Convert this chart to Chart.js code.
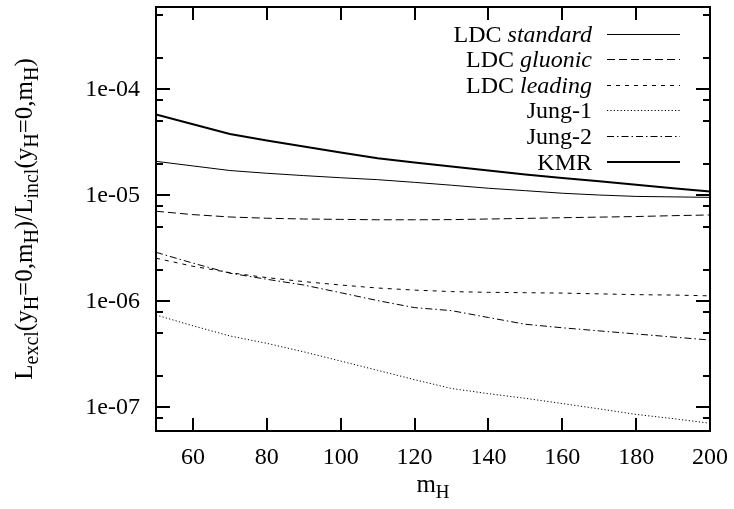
<!DOCTYPE html>
<html><head><meta charset="utf-8">
<script src="https://cdn.jsdelivr.net/npm/chart.js@4/dist/chart.umd.min.js"></script>
<style>html,body{margin:0;padding:0;background:#fff}#wrap{width:734px;height:509px;position:relative}</style>
</head><body><div id="wrap"><canvas id="c" width="734" height="509"></canvas></div>
<script>
const massesH = [50,60,70,80,90,100,110,120,130,140,150,160,170,180,190,200];
const ldcStandard = [2.10e-5,1.90e-5,1.72e-5,1.62e-5,1.54e-5,1.47e-5,1.41e-5,1.33e-5,1.25e-5,1.17e-5,1.11e-5,1.05e-5,1.01e-5,9.8e-6,9.7e-6,9.6e-6];
const ldcGluonic = [7.1e-6,6.6e-6,6.27e-6,6.1e-6,6.0e-6,5.95e-6,5.9e-6,5.9e-6,5.92e-6,6.0e-6,6.08e-6,6.17e-6,6.25e-6,6.33e-6,6.45e-6,6.55e-6];
const ldcLeading = [2.56e-6,2.15e-6,1.87e-6,1.68e-6,1.54e-6,1.43e-6,1.34e-6,1.28e-6,1.24e-6,1.22e-6,1.21e-6,1.20e-6,1.18e-6,1.16e-6,1.15e-6,1.13e-6];
const jung1 = [7.46e-7,5.9e-7,4.73e-7,4.03e-7,3.35e-7,2.74e-7,2.24e-7,1.83e-7,1.51e-7,1.35e-7,1.22e-7,1.09e-7,9.7e-8,8.6e-8,7.85e-8,7.1e-8];
const jung2 = [2.91e-6,2.3e-6,1.85e-6,1.62e-6,1.43e-6,1.21e-6,1.02e-6,8.75e-7,8.2e-7,7.06e-7,6.1e-7,5.65e-7,5.28e-7,4.94e-7,4.62e-7,4.33e-7];
const kmr = [5.8e-5,4.7e-5,3.8e-5,3.3e-5,2.9e-5,2.55e-5,2.25e-5,2.05e-5,1.88e-5,1.72e-5,1.58e-5,1.46e-5,1.36e-5,1.26e-5,1.17e-5,1.09e-5];
const seriesNames = [['LDC ','standard'],['LDC ','gluonic'],['LDC ','leading'],['Jung-1',''],['Jung-2',''],['KMR','']];
const xTickValues = [60,80,100,120,140,160,180,200];
const yTickValues = [1e-7,1e-6,1e-5,1e-4];
const yMinorValues = [8e-8,2e-7,5e-7,8e-7,2e-6,5e-6,8e-6,2e-5,5e-5,8e-5,2e-4,5e-4];

const SERIF = '"Liberation Serif","Times New Roman",serif';
const pts = arr => massesH.map((m,i)=>({x:m,y:arr[i]}));
const styles = [
  {borderWidth:1, borderDash:[]},
  {borderWidth:1, borderDash:[8,4]},
  {borderWidth:1, borderDash:[4,5]},
  {borderWidth:1, borderDash:[1.2,2.2]},
  {borderWidth:1, borderDash:[7,3,1.5,3]},
  {borderWidth:2, borderDash:[]}
];
const seriesData = [ldcStandard, ldcGluonic, ldcLeading, jung1, jung2, kmr];
const datasets = seriesData.map((arr,i)=>({
  label: seriesNames[i].join(''),
  data: pts(arr),
  borderColor:'#000', backgroundColor:'#000',
  borderWidth: styles[i].borderWidth, borderDash: styles[i].borderDash,
  pointRadius:0, tension:0, fill:false
}));

function measureRich(ctx, parts, size, subSize){
  let w = 0;
  parts.forEach(p=>{
    ctx.font = (p.it?'italic ':'') + (p.sub?subSize:size) + 'px ' + SERIF;
    w += ctx.measureText(p.t).width;
  });
  return w;
}
function renderRich(ctx, parts, x, y, size, subSize, subShift){
  let cx = x;
  parts.forEach(p=>{
    ctx.font = (p.it?'italic ':'') + (p.sub?subSize:size) + 'px ' + SERIF;
    ctx.fillText(p.t, cx, y + (p.sub?subShift:0));
    cx += ctx.measureText(p.t).width;
  });
}

const decor = {
  id:'decor',
  afterDraw(chart){
    const ctx = chart.ctx, a = chart.chartArea;
    const xs = chart.scales.x, ys = chart.scales.y;
    ctx.save();
    ctx.strokeStyle = '#000'; ctx.fillStyle = '#000';
    ctx.setLineDash([]);
    ctx.lineWidth = 2;
    ctx.beginPath();
    xTickValues.forEach(v=>{
      const px = Math.round(xs.getPixelForValue(v));
      ctx.moveTo(px, a.bottom); ctx.lineTo(px, a.bottom-13);
      ctx.moveTo(px, a.top); ctx.lineTo(px, a.top+13);
    });
    yTickValues.forEach(v=>{
      const py = Math.round(ys.getPixelForValue(v));
      ctx.moveTo(a.left, py); ctx.lineTo(a.left+14, py);
      ctx.moveTo(a.right, py); ctx.lineTo(a.right-14, py);
    });
    yMinorValues.forEach(v=>{
      const py = Math.round(ys.getPixelForValue(v));
      ctx.moveTo(a.left, py); ctx.lineTo(a.left+7, py);
      ctx.moveTo(a.right, py); ctx.lineTo(a.right-7, py);
    });
    ctx.stroke();
    ctx.strokeRect(a.left, a.top, a.right-a.left, a.bottom-a.top);
    // legend
    const textRight = 592, lx0 = 607, lx1 = 680;
    chart.data.datasets.forEach((ds,i)=>{
      const yRow = 33.5 + i*25.6;
      const parts = [{t:seriesNames[i][0]},{t:seriesNames[i][1], it:true}];
      const w = measureRich(ctx, parts, 24, 24);
      ctx.textBaseline = 'alphabetic'; ctx.textAlign = 'left';
      renderRich(ctx, parts, textRight - w, yRow + 8, 24, 24, 0);
      ctx.lineWidth = ds.borderWidth;
      ctx.setLineDash(ds.borderDash || []);
      ctx.beginPath();
      const yy = ds.borderWidth === 1 ? Math.round(yRow)+0.5 : Math.round(yRow);
      ctx.moveTo(lx0, yy); ctx.lineTo(lx1, yy); ctx.stroke();
      ctx.setLineDash([]);
    });
    // axis titles
    const xParts = [{t:'m'},{t:'H',sub:true}];
    const xw = measureRich(ctx, xParts, 25, 19);
    renderRich(ctx, xParts, (a.left+a.right)/2 - xw/2, 492, 25, 19, 6);
    const yParts = [{t:'L'},{t:'excl',sub:true},{t:'(y'},{t:'H',sub:true},{t:'=0,m'},{t:'H',sub:true},{t:')/L'},{t:'incl',sub:true},{t:'(y'},{t:'H',sub:true},{t:'=0,m'},{t:'H',sub:true},{t:')'}];
    const yw = measureRich(ctx, yParts, 25, 20);
    ctx.translate(32, (a.top+a.bottom)/2 + yw/2);
    ctx.rotate(-Math.PI/2);
    renderRich(ctx, yParts, 0, 0, 25, 20, 6);
    ctx.restore();
  }
};

function expLabel(v){
  const e = Math.round(Math.log10(v));
  return '1e' + (e<0?'-':'+') + String(Math.abs(e)).padStart(2,'0');
}

new Chart(document.getElementById('c'), {
  type:'line',
  data:{datasets},
  options:{
    responsive:false, animation:false, devicePixelRatio:1,
    layout:{padding:{top:7, right:24, left:0, bottom:0}},
    plugins:{legend:{display:false}, tooltip:{enabled:false}, title:{display:false}},
    scales:{
      x:{type:'linear', min:50, max:200,
        afterBuildTicks: s => { s.ticks = xTickValues.map(v=>({value:v})); },
        afterFit: s => { s.height = 78; s.paddingLeft = 0; s.paddingRight = 0; s.paddingTop = 0; s.paddingBottom = 0; },
        grid:{display:false, drawTicks:false}, border:{display:false},
        ticks:{color:'#000', font:{family:SERIF, size:24}, padding:12, maxRotation:0, autoSkip:false}
      },
      y:{type:'logarithmic', min:6e-8, max:6e-4,
        afterBuildTicks: s => { s.ticks = yTickValues.map(v=>({value:v, major:true})); },
        afterFit: s => { s.width = 156; s.paddingTop = 0; s.paddingBottom = 0; s.paddingLeft = 0; s.paddingRight = 0; },
        grid:{display:false, drawTicks:false}, border:{display:false},
        ticks:{color:'#000', font:{family:SERIF, size:24}, padding:16, autoSkip:false, callback:(v)=>expLabel(v)}
      }
    }
  },
  plugins:[decor]
});
</script></body></html>
